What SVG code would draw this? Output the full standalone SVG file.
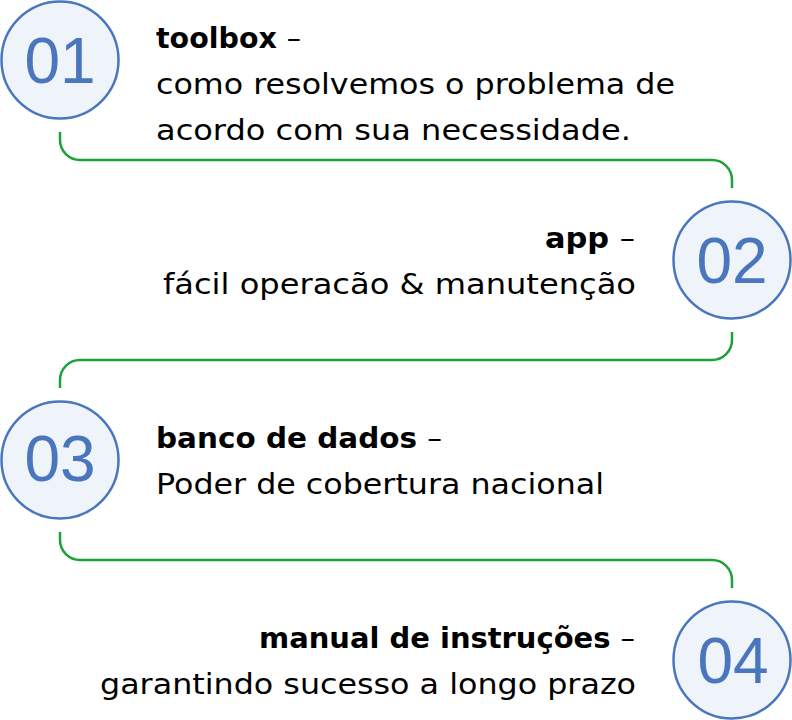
<svg xmlns="http://www.w3.org/2000/svg" width="792" height="720" viewBox="0 0 792 720">
<style>
.circ{fill:#eff3fa;stroke:#4a76bd;stroke-width:2.5}
.num{font-family:"Liberation Sans",Arial,sans-serif;font-size:64px;fill:#4a76bd;text-anchor:middle}
.t{font-family:"DejaVu Sans","Noto Sans",sans-serif;font-size:28.5px;fill:#000}
.b{font-weight:bold}
.n{font-weight:normal}
.r{text-anchor:end}
.conn{fill:none;stroke:#1ba23a;stroke-width:2.5;stroke-linecap:butt}
</style>
<rect width="792" height="720" fill="#ffffff"/>
<g id="connectors">
<path class="conn" d="M60,132 V140 A20,20 0 0 0 80,160 H712 A20,20 0 0 1 732,180 V188"/>
<path class="conn" d="M732,332 V340 A20,20 0 0 1 712,360 H80 A20,20 0 0 0 60,380 V388"/>
<path class="conn" d="M60,532 V540 A20,20 0 0 0 80,560 H712 A20,20 0 0 1 732,580 V588"/>
</g>
<g id="node1">
<circle class="circ" cx="60" cy="60" r="58.5"/>
<text class="num" x="60" y="83">01</text>
<text class="t b" x="156" y="48" textLength="145" lengthAdjust="spacingAndGlyphs">toolbox <tspan class="n">–</tspan></text>
<text class="t" x="156" y="94" textLength="519" lengthAdjust="spacingAndGlyphs">como resolvemos o problema de</text>
<text class="t" x="156" y="140" textLength="475" lengthAdjust="spacingAndGlyphs">acordo com sua necessidade.</text>
</g>
<g id="node2">
<circle class="circ" cx="732" cy="260" r="58.5"/>
<text class="num" x="732" y="283">02</text>
<text class="t b r" x="635" y="248" textLength="90" lengthAdjust="spacingAndGlyphs">app <tspan class="n">–</tspan></text>
<text class="t r" x="636" y="294" textLength="473" lengthAdjust="spacingAndGlyphs">fácil operacão &amp; manutenção</text>
</g>
<g id="node3">
<circle class="circ" cx="60" cy="460" r="58.5"/>
<text class="num" x="60" y="481">03</text>
<text class="t b" x="156" y="448" textLength="286" lengthAdjust="spacingAndGlyphs">banco de dados <tspan class="n">–</tspan></text>
<text class="t" x="156" y="494" textLength="448" lengthAdjust="spacingAndGlyphs">Poder de cobertura nacional</text>
</g>
<g id="node4">
<circle class="circ" cx="732" cy="660" r="58.5"/>
<text class="num" x="733" y="683">04</text>
<text class="t b r" x="635" y="648" textLength="376" lengthAdjust="spacingAndGlyphs">manual de instruções <tspan class="n">–</tspan></text>
<text class="t r" x="636" y="694" textLength="536" lengthAdjust="spacingAndGlyphs">garantindo sucesso a longo prazo</text>
</g>
</svg>
